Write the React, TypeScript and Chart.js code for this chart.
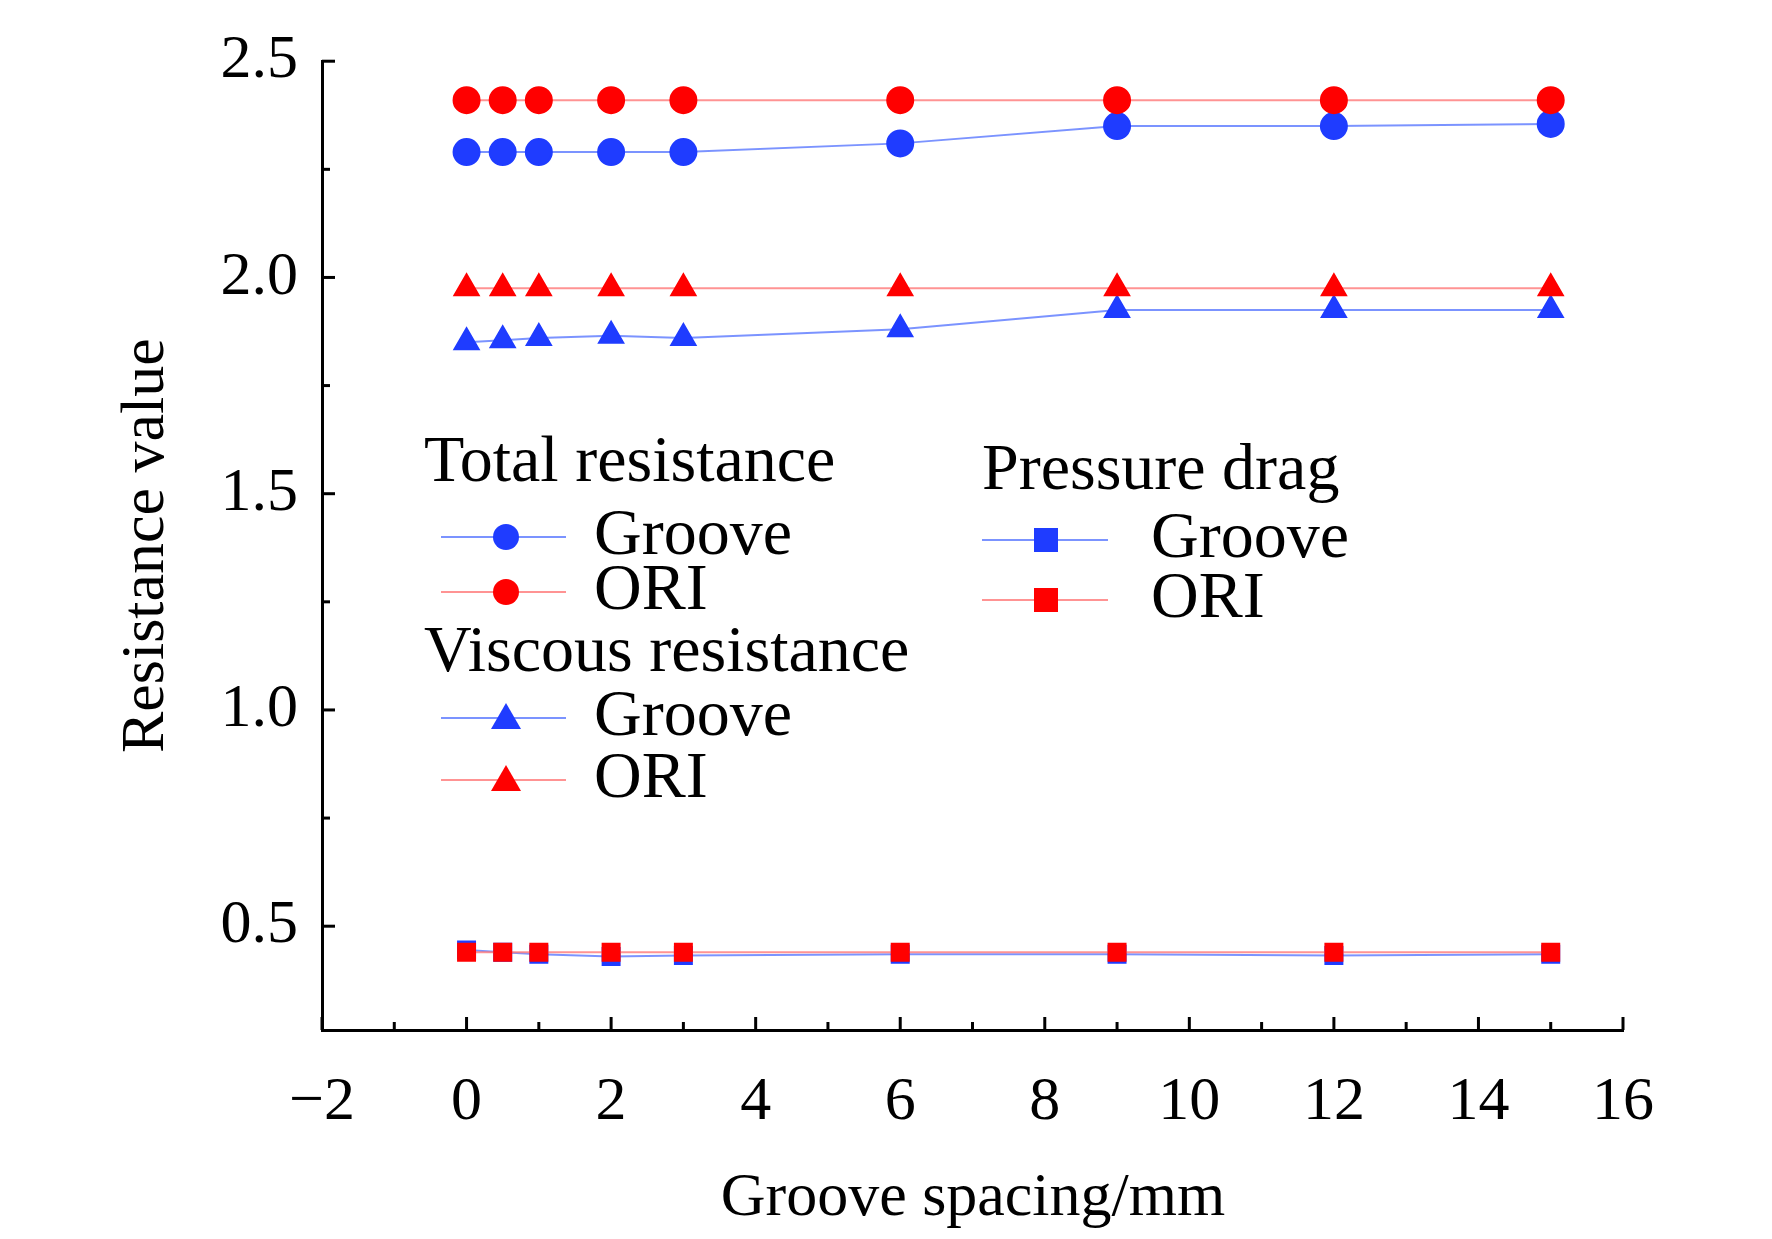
import React, { useEffect, useRef } from "react";
import { Chart, registerables } from "chart.js";
Chart.register(...registerables);

const xs = [0, 0.5, 1, 2, 3, 6, 9, 12, 15];
const totalGroove = [2.29, 2.29, 2.29, 2.29, 2.29, 2.31, 2.35, 2.35, 2.355];
const totalOri = [2.41, 2.41, 2.41, 2.41, 2.41, 2.41, 2.41, 2.41, 2.41];
const viscGroove = [1.85, 1.855, 1.86, 1.865, 1.86, 1.88, 1.925, 1.925, 1.925];
const viscOri = [1.975, 1.975, 1.975, 1.975, 1.975, 1.975, 1.975, 1.975, 1.975];
const presGroove = [0.445, 0.44, 0.435, 0.43, 0.432, 0.435, 0.435, 0.432, 0.435];
const presOri = [0.44, 0.44, 0.44, 0.44, 0.44, 0.44, 0.44, 0.44, 0.44];

const BLUE = "#1f3cff";
const RED = "#ff0000";
const BLUE_L = "rgba(90,120,255,0.8)";
const RED_L = "rgba(255,120,120,0.8)";
const FONT = "'Liberation Serif', 'Times New Roman', serif";

function ds(data: number[], style: string, color: string, line: string, r: number) {
  return {
    data: xs.map((x, i) => ({ x, y: data[i] })),
    pointStyle: style, pointRadius: r, backgroundColor: color, borderColor: line,
    pointBorderColor: color, pointBackgroundColor: color, borderWidth: 2, showLine: true,
  };
}

export default function App() {
  const ref = useRef<HTMLCanvasElement>(null);
  useEffect(() => {
    document.body.style.margin = "0";
    const deco = {
      id: "deco",
      afterDraw(c: any) {
        const ctx = c.ctx; const xS = c.scales.x; const yS = c.scales.y;
        const left = c.chartArea.left, bottom = c.chartArea.bottom;
        ctx.save();
        ctx.strokeStyle = "#000"; ctx.lineWidth = 3;
        for (let v = -2; v <= 16; v += 1) {
          const px = xS.getPixelForValue(v);
          const len = v % 2 === 0 ? 13 : 8;
          ctx.beginPath(); ctx.moveTo(px, bottom); ctx.lineTo(px, bottom - len); ctx.stroke();
        }
        for (let v = 0.5; v <= 2.5001; v += 0.25) {
          const py = yS.getPixelForValue(v);
          const major = Math.abs(v * 2 - Math.round(v * 2)) < 1e-6;
          ctx.beginPath(); ctx.moveTo(left, py); ctx.lineTo(left + (major ? 13 : 8), py); ctx.stroke();
        }
        ctx.fillStyle = "#000"; ctx.font = `62px ${FONT}`;
        ctx.textAlign = "center"; ctx.textBaseline = "middle";
        ctx.fillText("Groove spacing/mm", 973, 1199);
        ctx.save(); ctx.translate(147, (c.chartArea.top + bottom) / 2); ctx.rotate(-Math.PI / 2);
        ctx.fillText("Resistance value", 0, 0); ctx.restore();
        ctx.font = `66px ${FONT}`;
        ctx.textAlign = "left";
        const marker = (x: number, y: number, style: string, col: string) => {
          ctx.fillStyle = col;
          if (style === "circle") { ctx.beginPath(); ctx.arc(x, y, 13, 0, Math.PI * 2); ctx.fill(); }
          else if (style === "triangle") { ctx.beginPath(); ctx.moveTo(x, y - 15); ctx.lineTo(x + 15, y + 11); ctx.lineTo(x - 15, y + 11); ctx.closePath(); ctx.fill(); }
          else ctx.fillRect(x - 12, y - 12, 24, 24);
        };
        const item = (x0: number, x1: number, mx: number, tx: number, y: number, style: string, col: string, lc: string, label: string) => {
          ctx.strokeStyle = lc; ctx.lineWidth = 2;
          ctx.beginPath(); ctx.moveTo(x0, y); ctx.lineTo(x1, y); ctx.stroke();
          marker(mx, y, style, col);
          ctx.fillStyle = "#000"; ctx.fillText(label, tx, y);
        };
        ctx.fillStyle = "#000";
        ctx.fillText("Total resistance", 424, 464);
        item(441, 566, 506, 594, 537, "circle", BLUE, BLUE_L, "Groove");
        item(441, 566, 506, 594, 592, "circle", RED, RED_L, "ORI");
        ctx.fillStyle = "#000";
        ctx.fillText("Viscous resistance", 424, 654);
        item(441, 566, 506, 594, 718, "triangle", BLUE, BLUE_L, "Groove");
        item(441, 566, 506, 594, 780, "triangle", RED, RED_L, "ORI");
        ctx.fillStyle = "#000";
        ctx.fillText("Pressure drag", 982, 472);
        item(982, 1108, 1046, 1151, 540, "rect", BLUE, BLUE_L, "Groove");
        item(982, 1108, 1046, 1151, 600, "rect", RED, RED_L, "ORI");
        ctx.restore();
      },
    };
    const chart = new Chart(ref.current!, {
      type: "scatter",
      data: {
        datasets: [
          ds(presOri, "rect", RED, RED_L, 12),
          ds(presGroove, "rect", BLUE, BLUE_L, 12),
          ds(viscOri, "triangle", RED, RED_L, 14),
          ds(viscGroove, "triangle", BLUE, BLUE_L, 14),
          ds(totalOri, "circle", RED, RED_L, 13),
          ds(totalGroove, "circle", BLUE, BLUE_L, 13),
        ] as any,
      },
      plugins: [deco],
      options: {
        animation: false, responsive: false,
        layout: { padding: { top: 14, right: 149, left: 0, bottom: 0 } },
        plugins: { legend: { display: false }, tooltip: { enabled: false } },
        scales: {
          x: {
            type: "linear", min: -2, max: 16,
            afterFit: (s: any) => { s.height = 209; },
            grid: { display: false, drawTicks: false },
            border: { display: true, color: "#000", width: 3 },
            ticks: { stepSize: 2, padding: 36, color: "#000", font: { family: FONT, size: 62 }, callback: (v: any) => (v < 0 ? "\u2212" + Math.abs(v) : String(v)) },
          },
          y: {
            min: 0.26, max: 2.5,
            afterFit: (s: any) => { s.width = 322; },
            grid: { display: false, drawTicks: false },
            border: { display: true, color: "#000", width: 3 },
            afterBuildTicks: (s: any) => { s.ticks = [0.5, 1, 1.5, 2, 2.5].map((v) => ({ value: v })); },
            ticks: { padding: 24, color: "#000", font: { family: FONT, size: 62 }, callback: (v: any) => Number(v).toFixed(1) },
          },
        },
      } as any,
    });
    return () => chart.destroy();
  }, []);
  return <canvas ref={ref} width={1772} height={1239} style={{ display: "block" }} />;
}
